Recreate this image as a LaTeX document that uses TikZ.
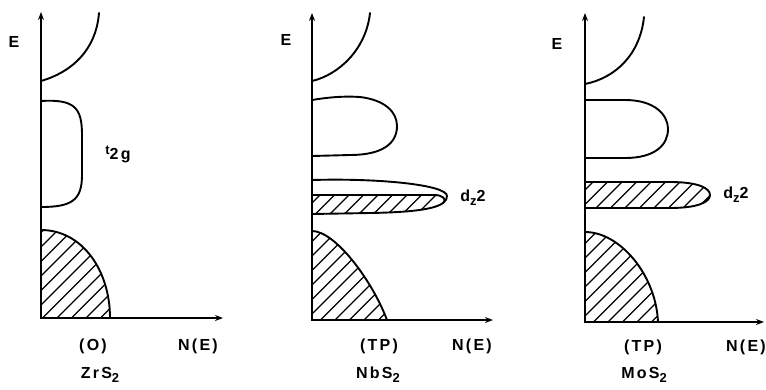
\documentclass[tikz,border=0pt]{standalone}
\usepackage{fontspec}
\newfontfamily\lblfont[LetterSpace=14]{Liberation Sans}
\usetikzlibrary{arrows.meta}
\newcommand{\lsub}[1]{\raisebox{-0.45ex}{\fontsize{13}{14}\selectfont #1}}
\tikzset{
  axisline/.style={line width=2pt, {Stealth[length=8pt,width=6pt]}-{Stealth[length=8pt,width=6pt]}},
  band/.style={line width=1.9pt, line join=round, line cap=round},
  hatchline/.style={line width=1.2pt},
  lbl/.style={font=\lblfont\bfseries\fontsize{16}{18}\selectfont, inner sep=0pt}
}
\begin{document}
\begin{tikzpicture}[x=1pt,y=-1pt]
\useasboundingbox (0,0) rectangle (766,389);
% ================= Panel 1: ZrS2 =================
\coordinate (T1) at (41,12);
\coordinate (O1) at (41,318);
\coordinate (R1) at (223,318);
\begin{scope}
  \clip (41,230) .. controls (82,230) and (110,270) .. (110,318) -- (41,318) -- cycle;
  \foreach \k in {-100,-85.5,...,140} \draw[hatchline] (\k,330) -- ++(120,-120);
\end{scope}
\draw[band] (41,230) .. controls (82,230) and (110,270) .. (110,318);
\draw[band] (41,81) .. controls (72,72) and (96,50) .. (99,13);
\draw[band] (41,101) .. controls (75,99) and (82,108) .. (82,135) -- (82,175) .. controls (82,200) and (72,207) .. (41,207);
\draw[axisline] (T1) -- (O1) -- (R1);
\node[lbl] (e1) at (14,42) {E};
\node[lbl] (t2g) at (118,154) {\raisebox{0.3ex}{\fontsize{13}{14}\selectfont t}\raisebox{-0.3ex}{2g}};
\node[lbl] (oc1) at (93,346) {(O)};
\node[lbl] (ne1) at (198,346) {N(E)};
\node[lbl] (zr) at (100,375) {ZrS\lsub{2}};
% ================= Panel 2: NbS2 =================
\coordinate (T2) at (312,13);
\coordinate (O2) at (312,320);
\coordinate (R2) at (493,320);
\begin{scope}
  \clip (312,231) .. controls (335,231) and (372,280) .. (387,320) -- (312,320) -- cycle;
  \foreach \k in {180,194.5,...,420} \draw[hatchline] (\k,330) -- ++(120,-120);
\end{scope}
\draw[band] (312,231) .. controls (335,231) and (372,280) .. (387,320);
\draw[band] (312,81) .. controls (338,75) and (366,50) .. (370,13);
\draw[band] (312,100) .. controls (330,97) and (345,96) .. (360,97) .. controls (385,100) and (397,112) .. (397,126) .. controls (397,145) and (380,155) .. (350,155) -- (312,156);
\begin{scope}
  \clip (312,195) -- (434,195) .. controls (443,195) and (446,199) .. (444,202) .. controls (432,210) and (410,213) .. (370,213) -- (312,214) -- cycle;
  \foreach \k in {290,304.5,...,460} \draw[hatchline] (\k,225) -- ++(40,-40);
\end{scope}
\draw[band] (312,195) -- (434,195) .. controls (443,195) and (446,199) .. (444,202);
\draw[band] (312,180) .. controls (380,178) and (447,185) .. (447,196) .. controls (447,206) and (430,212) .. (370,213) -- (312,214);
\draw[axisline] (T2) -- (O2) -- (R2);
\node[lbl] (e2) at (286,40) {E};
\node[lbl] (dz2a) at (473,198) {d\lsub{z}2};
\node[lbl] (tp2) at (379,346) {(TP)};
\node[lbl] (ne2) at (472,346) {N(E)};
\node[lbl] (nb) at (378,375) {NbS\lsub{2}};
% ================= Panel 3: MoS2 =================
\coordinate (T3) at (585,13);
\coordinate (O3) at (585,322);
\coordinate (R3) at (764,322);
\begin{scope}
  \clip (585,232) .. controls (620,232) and (656,275) .. (658,322) -- (585,322) -- cycle;
  \foreach \k in {450,464.5,...,700} \draw[hatchline] (\k,335) -- ++(130,-130);
\end{scope}
\draw[band] (585,232) .. controls (620,232) and (656,275) .. (658,322);
\draw[band] (585,84) .. controls (615,78) and (640,55) .. (644,17);
\draw[band] (585,100) -- (625,100) .. controls (655,100) and (668,115) .. (668,129) .. controls (668,145) and (655,158) .. (625,158) -- (585,158);
\begin{scope}
  \clip (585,182) -- (670,182) .. controls (698,182) and (710,188) .. (710,195) .. controls (710,202) and (698,208) .. (670,208) -- (585,208) -- cycle;
  \foreach \k in {560,574.5,...,740} \draw[hatchline] (\k,215) -- ++(40,-40);
\end{scope}
\draw[band] (585,182) -- (670,182) .. controls (698,182) and (710,188) .. (710,195) .. controls (710,202) and (698,208) .. (670,208) -- (585,208);
\draw[axisline] (T3) -- (O3) -- (R3);
\node[lbl] (e3) at (557,44) {E};
\node[lbl] (dz2b) at (736,195) {d\lsub{z}2};
\node[lbl] (tp3) at (643,347) {(TP)};
\node[lbl] (ne3) at (746,347) {N(E)};
\node[lbl] (mo) at (644,375) {MoS\lsub{2}};
\end{tikzpicture}
\end{document}
